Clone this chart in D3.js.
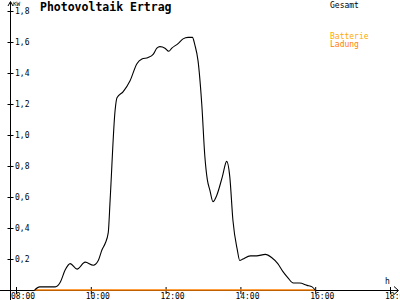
<!DOCTYPE html>
<html>
<head>
<meta charset="utf-8">
<script src="https://cdn.jsdelivr.net/npm/d3@7"></script>
<style>
  body { margin: 0; background: #fff; }
  svg { display: block; }
  text { font-family: "DejaVu Sans Mono", "Liberation Mono", monospace; }
</style>
</head>
<body>
<div id="chart"></div>
<script>
// Chart size
var svgWidth = 400;
var svgHeight = 300;

// Measured PV output (kW) over the day
var times = ["08:30", "08:38", "08:47", "09:03", "09:11", "09:19", "09:27", "09:38", "09:51", "10:04",
    "10:12", "10:18", "10:23", "10:28", "10:31", "10:39", "10:42", "10:52", "11:03", "11:14",
    "11:22", "11:32", "11:40", "11:46", "11:51", "11:59", "12:05", "12:10", "12:20", "12:28",
    "12:36", "12:43", "12:47", "12:52", "12:58", "13:03", "13:07", "13:11", "13:16", "13:22",
    "13:31", "13:38", "13:43", "13:48", "13:55", "13:59", "14:04", "14:16", "14:26", "14:40",
    "14:50", "15:00", "15:08", "15:16", "15:25", "15:35", "15:47", "15:55", "16:00"];
var power = [0, 0.02, 0.02, 0.02, 0.05, 0.13, 0.17, 0.135, 0.18, 0.16,
    0.19, 0.26, 0.30, 0.37, 0.58, 1.16, 1.24, 1.28, 1.35, 1.46,
    1.49, 1.50, 1.52, 1.56, 1.57, 1.56, 1.54, 1.56, 1.59, 1.62,
    1.63, 1.63, 1.58, 1.48, 1.20, 0.86, 0.71, 0.645, 0.57, 0.61,
    0.73, 0.83, 0.73, 0.45, 0.26, 0.19, 0.20, 0.22, 0.22, 0.23,
    0.21, 0.17, 0.12, 0.08, 0.045, 0.045, 0.03, 0.02, 0];

// Battery charging (flat zero while PV runs)
var chargeTimes = ["08:30", "16:00"];
var charge = [0, 0];

// Axis ticks
var yTicks = [0.2, 0.4, 0.6, 0.8, 1.0, 1.2, 1.4, 1.6, 1.8];
var xTicks = [8, 10, 12, 14, 16, 18];

var toHours = t => { var p = t.split(":"); return +p[0] + p[1] / 60; };

var svg = d3.select("#chart")
    .append("svg")
    .attr("width", svgWidth)
    .attr("height", svgHeight);

var x = d3.scaleLinear().domain([8, 18]).range([16, 390]);
var y = d3.scaleLinear().domain([0, 1.8]).range([290, 11]);

// axis lines with arrows
var axisLines = svg.append("g")
    .attr("stroke", "#000")
    .attr("shape-rendering", "crispEdges");
axisLines.append("line").attr("x1", 10.5).attr("x2", 10.5).attr("y1", 2).attr("y2", 300);
axisLines.append("line").attr("x1", 0).attr("x2", 398).attr("y1", 290.5).attr("y2", 290.5);
svg.append("path")
    .attr("d", "M8,6L10.5,1.5L13,6 M394,286.5L398.5,290.5L394,294.5")
    .attr("fill", "none")
    .attr("stroke", "#000");

// y axis
var yAxis = svg.append("g")
    .attr("transform", "translate(10.5,0)")
    .call(d3.axisRight(y)
        .tickValues(yTicks)
        .tickSize(3)
        .tickFormat(d => d3.format(".1f")(d).replace(".", ",")));
yAxis.select(".domain").remove();
yAxis.selectAll(".tick line").attr("x1", -3).attr("x2", 3);
yAxis.selectAll(".tick text")
    .attr("x", 4.5)
    .attr("dy", "0.35em")
    .style("font-size", "8px")
    .style("font-family", "'DejaVu Sans Mono', monospace");

// x axis
var xAxis = svg.append("g")
    .attr("transform", "translate(0,290)")
    .call(d3.axisBottom(x)
        .tickValues(xTicks)
        .tickSize(3)
        .tickFormat(d => d3.format("02d")(d) + ":00"));
xAxis.select(".domain").remove();
xAxis.selectAll(".tick line").attr("y1", -3).attr("y2", 4);
xAxis.selectAll(".tick text")
    .attr("y", 9)
    .attr("dy", 0)
    .attr("x", -5.5)
    .style("text-anchor", "start")
    .style("font-size", "8px")
    .style("font-family", "'DejaVu Sans Mono', monospace");

// battery charge line
var chargeLine = d3.line()
    .x((d, i) => x(toHours(chargeTimes[i])))
    .y(d => y(d));
svg.append("path")
    .datum(charge)
    .attr("d", chargeLine)
    .attr("fill", "none")
    .attr("stroke", "#ff8000")
    .attr("stroke-width", 1.5);

// PV curve
var pvLine = d3.line()
    .x((d, i) => x(toHours(times[i])))
    .y(d => y(d))
    .curve(d3.curveMonotoneX);
svg.append("path")
    .datum(power)
    .attr("d", pvLine)
    .attr("fill", "none")
    .attr("stroke", "#000")
    .attr("stroke-width", 1.1);

// labels
svg.append("text")
    .attr("x", 40)
    .attr("y", 11)
    .style("font-size", "11.5px")
    .style("font-weight", "bold")
    .text("Photovoltaik Ertrag");

svg.append("text")
    .attr("x", 13)
    .attr("y", 6)
    .style("font-size", "6px")
    .text("KW");

svg.append("text")
    .attr("x", 385)
    .attr("y", 284)
    .style("font-size", "8px")
    .text("h");

svg.append("text")
    .attr("x", 330)
    .attr("y", 8)
    .style("font-size", "8px")
    .text("Gesamt");

svg.append("text")
    .attr("x", 330)
    .attr("y", 39)
    .style("font-size", "8px")
    .attr("fill", "#ffaa00")
    .text("Batterie");

svg.append("text")
    .attr("x", 330)
    .attr("y", 47)
    .style("font-size", "8px")
    .attr("fill", "#ff8000")
    .text("Ladung");
</script>
</body>
</html>
